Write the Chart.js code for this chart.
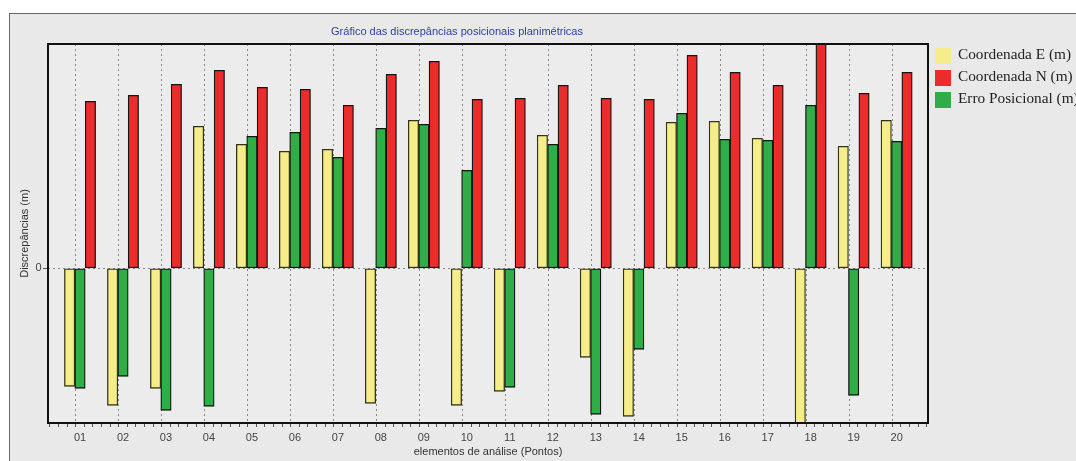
<!DOCTYPE html>
<html><head><meta charset="utf-8">
<script src="https://cdn.jsdelivr.net/npm/chart.js@4.4.1/dist/chart.umd.min.js"></script>
<style>
html,body{margin:0;padding:0;background:#fff;width:1076px;height:461px;overflow:hidden;}
#wrap{position:relative;width:1076px;height:461px;overflow:hidden;background:#fff;}
#frame{position:absolute;left:9px;top:13px;width:1200px;height:600px;border:1px solid #666;background:#e9e9e9;}
#c{position:absolute;left:0;top:0;}
#title{position:absolute;top:24px;left:0;width:914px;text-align:center;font:11px 'Liberation Sans',Arial,sans-serif;color:#2d3f9e;line-height:14px;}
#legend{position:absolute;left:935px;top:43px;font:15.3px 'Liberation Serif','Times New Roman',serif;color:#222;white-space:nowrap;}
.li{display:flex;align-items:center;height:22px;}
.sw{width:16px;height:16px;margin-right:7px;flex:none;position:relative;top:2px;}
</style>
</head>
<body>
<div id="wrap">
  <div id="frame"></div>
  <canvas id="c" width="1076" height="461"></canvas>
  <div id="title">Gráfico das discrepâncias posicionais planimétricas</div>
  <div id="legend"></div>
</div>
<script>
// ---- data ----
const pointLabels = ['01','02','03','04','05','06','07','08','09','10','11','12','13','14','15','16','17','18','19','20'];
const coordE   = [-1.18,-1.37,-1.20, 1.42, 1.24, 1.17, 1.19,-1.35, 1.48,-1.37,-1.23, 1.33,-0.89,-1.48, 1.46, 1.47, 1.30,-1.60, 1.22, 1.48];
const coordN   = [ 1.67, 1.73, 1.84, 1.98, 1.81, 1.79, 1.63, 1.94, 2.07, 1.69, 1.70, 1.83, 1.70, 1.69, 2.13, 1.96, 1.83, 2.30, 1.75, 1.96];
const erroPos  = [-1.20,-1.08,-1.42,-1.38, 1.32, 1.36, 1.11, 1.40, 1.44, 0.98,-1.19, 1.24,-1.46,-0.81, 1.55, 1.29, 1.28, 1.63,-1.27, 1.27];
const seriesNames = ['Coordenada E (m)','Coordenada N (m)','Erro Posicional (m)'];
const yTickValues = [0];
const yMin = -1.547, yMax = 2.243;

const FONT = "'Liberation Sans', Arial, sans-serif";
const toPoints = arr => arr.map((v,i)=>({x:i+1, y:v}));

const datasets = [
  {label: seriesNames[0], data: toPoints(coordE),  backgroundColor:'#f4ed8a', borderColor:'#33331a'},
  {label: seriesNames[2], data: toPoints(erroPos), backgroundColor:'#2fae48', borderColor:'#151515'},
  {label: seriesNames[1], data: toPoints(coordN),  backgroundColor:'#ec2b2b', borderColor:'#151515'}
].map(d => Object.assign(d, {borderWidth:1.3, borderSkipped:false, barThickness:10.4}));

const isMajor = v => Math.abs(v - Math.round(v)) < 1e-6;

const plotFrame = {
  id:'plotFrame',
  beforeDraw(chart){
    const {ctx, chartArea:a} = chart;
    ctx.save(); ctx.fillStyle='#ececec';
    ctx.fillRect(a.left, a.top, a.right-a.left, a.bottom-a.top);
    ctx.restore();
  },
  afterDatasetsDraw(chart){
    const {ctx, chartArea:a} = chart;
    ctx.save(); ctx.strokeStyle='#111'; ctx.lineWidth=2;
    ctx.strokeRect(a.left, a.top, a.right-a.left, a.bottom-a.top);
    ctx.restore();
  }
};

const chart = new Chart(document.getElementById('c'), {
  type:'bar',
  data:{datasets},
  options:{
    responsive:false, animation:false,
    layout:{padding:{top:44, right:148, left:0, bottom:0}},
    plugins:{legend:{display:false}, title:{display:false}, tooltip:{enabled:false}},
    scales:{
      x:{
        type:'linear', min:0.255, max:20.73, offset:false,
        afterBuildTicks: ax => { const t=[]; for(let k=Math.ceil(ax.min*5); k<=Math.floor(ax.max*5); k++) t.push({value:k/5}); ax.ticks=t; },
        afterFit: ax => { ax.height = 38; },
        ticks:{autoSkip:false, maxRotation:0, minRotation:0, padding:4, color:'#444', font:{family:FONT, size:11},
          callback:(v)=>{ if(!isMajor(v)) return ''; const l = pointLabels[Math.round(v)-1]; return l===undefined?'':l; }},
        grid:{color: c => (c.tick && isMajor(c.tick.value)) ? '#8a8a8a' : 'rgba(0,0,0,0)', tickColor:'#555', tickLength:4, lineWidth:1},
        border:{display:false, dash:[2,3]},
        title:{display:true, text:'elementos de análise (Pontos)', color:'#333', font:{family:FONT, size:11}, padding:{top:0, bottom:2}}
      },
      y:{
        min:yMin, max:yMax,
        afterBuildTicks: ax => { ax.ticks = yTickValues.map(v=>({value:v})); },
        afterFit: ax => { ax.width = 48; },
        ticks:{padding:1.5, color:'#444', font:{family:FONT, size:11}},
        grid:{color:'#8a8a8a', tickColor:'#555', tickLength:5, lineWidth:1},
        border:{display:false, dash:[2,3]},
        title:{display:true, text:'Discrepâncias (m)', color:'#333', font:{family:FONT, size:11}, padding:{top:18, bottom:0}}
      }
    }
  },
  plugins:[plotFrame]
});

// HTML legend in the reference order
const leg = document.getElementById('legend');
seriesNames.forEach(name => {
  const ds = chart.data.datasets.find(d => d.label === name);
  const row = document.createElement('div'); row.className='li';
  const sw = document.createElement('span'); sw.className='sw'; sw.style.background = ds.backgroundColor;
  const tx = document.createElement('span'); tx.textContent = name;
  row.appendChild(sw); row.appendChild(tx); leg.appendChild(row);
});
</script>
</body></html>
